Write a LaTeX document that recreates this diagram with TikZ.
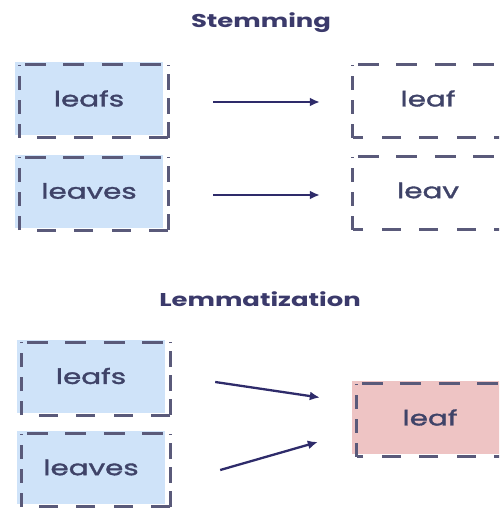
\documentclass[tikz,border=0pt]{standalone}
\usepackage{fontspec}
\setmainfont[FakeStretch=1.4]{Poppins}
\newfontfamily\cellfont[FakeStretch=1.4, FakeBold=1.6]{Poppins}
\usetikzlibrary{arrows.meta}

\definecolor{ink}{HTML}{3F4368}
\definecolor{headink}{HTML}{3B3A6B}
\definecolor{frameink}{HTML}{5A5A7A}
\definecolor{arrowink}{HTML}{2E2B6A}
\definecolor{bluefill}{HTML}{CFE3F9}
\definecolor{pinkfill}{HTML}{EEC4C4}

\tikzset{
  cell/.style={minimum width=148pt, minimum height=73pt, inner sep=0pt,
    font=\cellfont\fontsize{21}{25}\selectfont, text=ink},
  widecell/.style={cell, minimum width=160pt},
  heading/.style={font=\fontsize{18.5}{22}\selectfont\bfseries, text=headink, inner sep=0pt},
  edge top/.style={draw=frameink, line width=2.8pt, dash pattern=on 21pt off 17.5pt},
  edge bottom/.style={draw=frameink, line width=2.8pt, dash pattern=on 19pt off 18.5pt},
  edge left/.style={draw=frameink, line width=2.8pt, dash pattern=on 14pt off 10pt},
  edge right/.style={draw=frameink, line width=2.8pt, dash pattern=on 16pt off 8pt},
  flow/.style={draw=arrowink, line width=2.3pt, -{Latex[length=10pt,width=9pt]}},
}

% dashed frame, offset from the filled box by (5,3)
\newcommand\dashframe[1]{%
  \draw[edge top] ([shift={(10,3)}]#1.north west) -- ([shift={(5,3)}]#1.north east);
  \draw[edge bottom] ([shift={(5,2.5)}]#1.south east) -- ([shift={(5,2.5)}]#1.south west);
  \draw[edge left] ([shift={(5,2.5)}]#1.south west) -- ([shift={(5,3)}]#1.north west);
}
\newcommand\dashframeright[1]{%
  \draw[edge right] ([shift={(5,2.5)}]#1.south east) -- ([shift={(5,3)}]#1.north east);
}

\begin{document}
\begin{tikzpicture}[x=1pt, y=-1pt]
\useasboundingbox (0,0) rectangle (499,513);
\clip (0,0) rectangle (499,513);

% ---- Stemming ----
\node[heading] (stemTitle) at (261,23) {Stemming};

\node[cell, fill=bluefill] (sIn1) at (89,98.5) {leafs};
\node[cell, fill=bluefill] (sIn2) at (89,191) {leaves};
\node[widecell] (sOut1) at (428,98.5) {leaf};
\node[widecell] (sOut2) at (428,190.5) {leav};

\dashframe{sIn1}\dashframeright{sIn1}
\dashframe{sIn2}\dashframeright{sIn2}
\dashframe{sOut1}
\dashframe{sOut2}

\draw[flow] ([shift={(50,3.5)}]sIn1.east) -- ([shift={(-28,3.5)}]sOut1.west);
\draw[flow] ([shift={(50,4)}]sIn2.east) -- ([shift={(-28,4.5)}]sOut2.west);

% ---- Lemmatization ----
\node[heading] (lemTitle) at (260,299) {Lemmatization};

\node[cell, fill=bluefill] (lIn1) at (91,376) {leafs};
\node[cell, fill=bluefill] (lIn2) at (91,467.5) {leaves};
\node[widecell, minimum width=156pt, fill=pinkfill] (lOut) at (430,417.5) {leaf};

\dashframe{lIn1}\dashframeright{lIn1}
\dashframe{lIn2}\dashframeright{lIn2}
\dashframe{lOut}

\draw[flow] ([shift={(50,6)}]lIn1.east) -- ([shift={(-32,-20)}]lOut.west);
\draw[flow] ([shift={(55,2.5)}]lIn2.east) -- ([shift={(-34,24.5)}]lOut.west);
\end{tikzpicture}
\end{document}
